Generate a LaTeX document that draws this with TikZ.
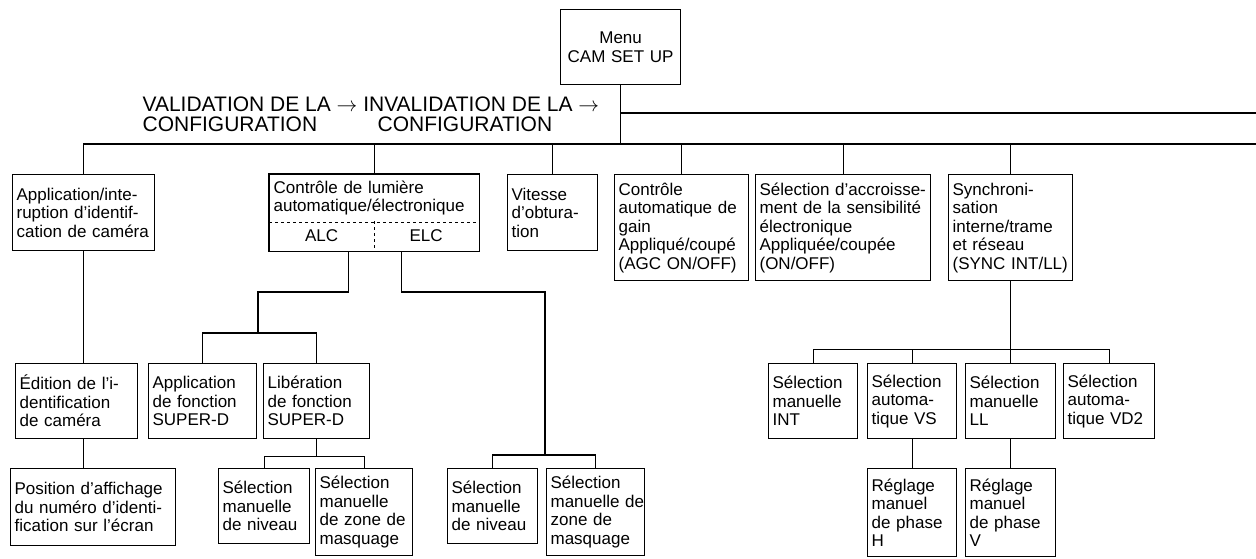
\documentclass[tikz,border=0pt]{standalone}
\usepackage{fontspec}
\setmainfont{Liberation Sans}
\begin{document}
\begin{tikzpicture}[x=1pt,y=-1pt,line width=1.2pt,
  every node/.style={font=\fontsize{17}{18.5}\selectfont},
  box/.style={draw, line width=1.2pt, anchor=north west, align=left, inner xsep=4pt, inner ysep=0pt},
  cell/.style={anchor=north west, align=center, inner sep=0pt},
  lbl/.style={anchor=base west, inner sep=0pt, font=\fontsize{21}{24}\selectfont}]
\useasboundingbox (0,0) rectangle (1256,558);
% top
\node[box, align=center, minimum width=120pt, minimum height=75pt, text width=112pt] (menu) at (560,9) {Menu\\CAM~SET~UP};
\node[lbl] (val1) at (142,111) {VALIDATION DE LA $\rightarrow$ INVALIDATION DE LA $\rightarrow$};
\node[lbl] (cfg1) at (142,131) {CONFIGURATION};
\node[lbl] (cfg2) at (377,131) {CONFIGURATION};
% row 1
\node[box, text width=134pt, minimum height=76pt] (app) at (12,174) {Application/inte-\\ruption~d'identif-\\cation~de~caméra};
\node[box, draw=none, text width=201pt, minimum height=47pt] (lum) at (269,174) {Contrôle~de~lumière\\automatique/électronique};
\node[cell, minimum width=104pt, minimum height=29pt] (alc) at (269,221) {ALC};
\node[cell, minimum width=105pt, minimum height=29pt] (elc) at (373,221) {ELC};
\draw (lum.north west) rectangle (elc.south east);
\draw[dashed] (lum.south west) -- (lum.south east);
\draw[dashed] (alc.north east) -- (alc.south east);
\node[box, text width=82pt, minimum height=76pt] (vit) at (507,174) {Vitesse\\d'obtura-\\tion};
\node[box, text width=126pt, minimum height=106pt] (agc) at (614,174) {Contrôle\\automatique~de\\gain\\Appliqué/coupé\\(AGC~ON/OFF)};
\node[box, text width=167pt, minimum height=106pt] (sel) at (755,174) {Sélection~d'accroisse-\\ment~de~la~sensibilité\\électronique\\Appliquée/coupée\\(ON/OFF)};
\node[box, text width=116pt, minimum height=106pt] (syn) at (948,174) {Synchroni-\\sation\\interne/trame\\et~réseau\\(SYNC~INT/LL)};
% row 2
\node[box, text width=114pt, minimum height=75pt] (edit) at (15,363) {Édition~de~l'i-\\dentification\\de~caméra};
\node[box, text width=100pt, minimum height=75pt] (sd1) at (148,363) {Application\\de~fonction\\SUPER-D};
\node[box, text width=98pt, minimum height=75pt] (lib) at (263,363) {Libération\\de~fonction\\SUPER-D};
\node[box, text width=81pt, minimum height=75pt] (int) at (768,363) {Sélection\\manuelle\\INT};
\node[box, text width=81pt, minimum height=75pt] (vs) at (867,363) {Sélection\\automa-\\tique~VS};
\node[box, text width=82pt, minimum height=75pt] (ll) at (965,363) {Sélection\\manuelle\\LL};
\node[box, text width=83pt, minimum height=75pt] (vd2) at (1063,363) {Sélection\\automa-\\tique~VD2};
% row 3
\node[box, text width=157pt, minimum height=77pt] (pos) at (10,468) {Position~d'affichage\\du~numéro~d'identi-\\fication~sur~l'écran};
\node[box, text width=83pt, minimum height=75pt] (sm1) at (218,468) {Sélection\\manuelle\\de~niveau};
\node[box, text width=89pt, minimum height=87pt] (sz1) at (315,468) {Sélection\\manuelle\\de~zone~de\\masquage};
\node[box, text width=82pt, minimum height=75pt] (sm2) at (447,468) {Sélection\\manuelle\\de~niveau};
\node[box, text width=90pt, minimum height=87pt] (sz2) at (546,468) {Sélection\\manuelle~de\\zone~de\\masquage};
\node[box, text width=81pt, minimum height=88pt] (rh) at (867,468) {Réglage\\manuel\\de~phase\\H};
\node[box, text width=82pt, minimum height=88pt] (rv) at (965,468) {Réglage\\manuel\\de~phase\\V};
% connectors
\coordinate (bus) at (0,144);
\coordinate (busR) at (1256,144);
\coordinate (topR) at (1256,113);
\draw (menu.south) -- (menu.south |- bus);
\draw (menu.south |- topR) -- (topR);
\draw (app.north) |- (busR);
\foreach \n in {lum,vit,agc,sel,syn} \draw (\n.north) -- (\n.north |- bus);
\draw (app.south) -- (app.south |- edit.north);
\draw (app.south |- edit.south) -- (app.south |- pos.north);
\coordinate (a1) at (258,292);
\coordinate (a2) at (258,333);
\draw ([xshift=27pt]alc.south) |- (a1) -- (a2);
\draw (sd1.north) |- (a2) -| (lib.north);
\coordinate (e1) at (545,292);
\coordinate (e2) at (545,455);
\draw ([xshift=-25pt]elc.south) |- (e1) -- (e2);
\draw (sm2.north) |- (e2) -| (sz2.north);
\coordinate (l1) at ([yshift=-17pt]lib.south);
\draw (lib.south) -- (l1);
\draw (sm1.north) |- (l1) -| (sz1.north);
\coordinate (sbus) at ([yshift=-68pt]syn.south);
\draw (syn.south) -- (ll.north);
\draw (int.north) |- (sbus) -| (vd2.north);
\draw (vs.north) -- (vs.north |- sbus);
\draw (vs.south) -- (rh.north);
\draw (ll.south) -- (rv.north);
\end{tikzpicture}
\end{document}
